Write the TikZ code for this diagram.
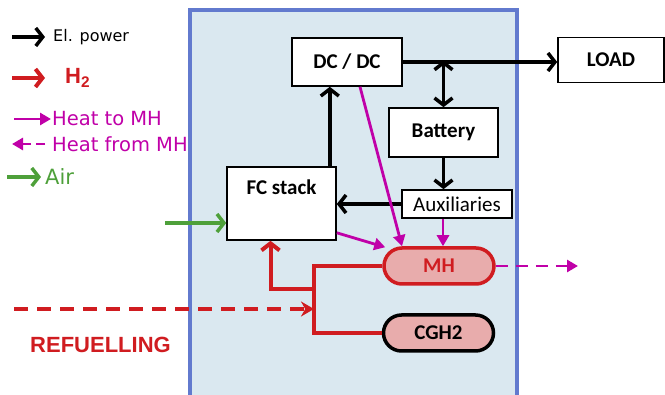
\documentclass[tikz,border=0pt]{standalone}
\usepackage{fontspec}
\setmainfont{Carlito}
\newfontfamily\legfont{DejaVu Sans}
\newfontfamily\arialfont{Liberation Sans}
\usetikzlibrary{arrows.meta}

\definecolor{hred}{RGB}{208,28,32}
\definecolor{heatmag}{RGB}{192,0,168}
\definecolor{airgreen}{RGB}{78,160,58}
\definecolor{frameblue}{RGB}{98,122,206}
\definecolor{framefill}{RGB}{218,232,240}
\definecolor{tankpink}{RGB}{232,172,172}

\tikzset{
  box/.style={draw, line width=1.6pt, fill=white, inner sep=0pt,
    font=\bfseries\fontsize{21}{24}\selectfont},
  tank/.style={draw, line width=3.5pt, fill=tankpink, rounded corners=18pt,
    minimum width=110pt, minimum height=36pt, inner sep=0pt,
    font=\bfseries\fontsize{21}{24}\selectfont},
  elec/.style={line width=3.5pt, -{Straight Barb[length=7pt,width=18pt]}},
  h2/.style={hred, line width=4pt},
  heat/.style={heatmag, line width=2.8pt, -{Triangle[length=11pt,width=12pt]}},
  air/.style={airgreen, line width=3.5pt, -{Straight Barb[length=7pt,width=18pt]}},
}

\begin{document}
\begin{tikzpicture}[x=1pt, y=-1pt]
  \useasboundingbox (0,0) rectangle (665,395);

  % system frame
  \draw[line width=3.5pt, draw=frameblue, fill=framefill] (190,10) rectangle (517,400);

  % components
  \node[box, minimum width=110pt, minimum height=48pt] (dcdc) at (347,62) {DC / DC};
  \node[box, minimum width=106pt, minimum height=45pt] (load) at (611,60) {LOAD};
  \node[box, minimum width=109pt, minimum height=49pt] (batt) at (443.5,132.5) {Battery};
  \node[box, minimum width=110pt, minimum height=28pt, font=\fontsize{21}{24}\selectfont] (aux) at (457,204) {Auxiliaries};
  \node[box, minimum width=109pt, minimum height=73pt,
    label={[anchor=north, yshift=-10pt, font=\bfseries\fontsize{21}{24}\selectfont]north:FC stack}] (fc) at (281.5,203.5) {};
  \node[tank, draw=hred, text=hred] (mh) at (439,266) {MH};
  \node[tank] (cgh) at (438.5,333) {CGH2};

  % electric power
  \draw[elec] (dcdc.east) -- (dcdc.east -| load.west);
  \draw[elec, {Straight Barb[length=7pt,width=18pt]}-{Straight Barb[length=7pt,width=18pt]}]
    ([yshift=1.5pt]batt.north |- dcdc.east) -- (batt.north);
  \draw[elec] (batt.south) -- (batt.south |- aux.north);
  \draw[elec] (aux.west) -- (aux.west -| fc.east);
  \draw[elec] ([xshift=-7pt]fc.north east) -- ([xshift=-7pt]fc.north east |- dcdc.south);

  % heat
  \draw[heat] ([xshift=13pt]dcdc.south) -- ([xshift=-37pt]mh.north);
  \draw[heat] ([yshift=8pt]fc.south east) -- ([xshift=3pt,yshift=-1pt]mh.north west);
  \draw[heat] ([xshift=-14pt]aux.south) -- ([xshift=-14pt]aux.south |- mh.north);
  \coordinate (heatout) at (578,266);
  \draw[heat, dash pattern=on 12pt off 8pt] (mh.east) -- (heatout);

  % air
  \coordinate (airin) at (165,223);
  \draw[air] (airin) -- (airin -| fc.west);

  % hydrogen
  \coordinate (jt) at (314,266);
  \coordinate (jm) at (314,289);
  \coordinate (refuel) at (14,309);
  \draw[h2] (mh.west) -- (jt) |- (cgh.west);
  \draw[h2, -{Straight Barb[length=7pt,width=18pt]}] (jm) -| ([xshift=-11pt]fc.south);
  \draw[h2, dash pattern=on 14pt off 9pt, -{Stealth[length=13pt,width=15pt]}] (refuel) -- (refuel -| jt);
  \node[anchor=west, text=hred, font=\arialfont\bfseries\fontsize{22}{24}\selectfont, inner sep=0pt] (refuelling) at (30,345) {REFUELLING};

  % legend
  \node[anchor=west, inner sep=0pt, font=\legfont\fontsize{16}{18}\selectfont] (lgel) at (53,37) {El. power};
  \draw[elec] ([xshift=-41pt]lgel.west) -- ([xshift=-8pt]lgel.west);
  \node[anchor=west, inner sep=0pt, text=hred, font=\arialfont\bfseries\fontsize{22}{24}\selectfont] (lgh2) at (65,78) {H\textsubscript{2}};
  \draw[h2, -{Straight Barb[length=7pt,width=18pt]}] ([xshift=-53pt]lgh2.west) -- ([xshift=-20pt]lgh2.west);
  \node[anchor=west, inner sep=0pt, text=heatmag, font=\legfont\fontsize{19.5}{22}\selectfont] (lgheatto) at (52,119) {Heat to MH};
  \draw[heat] ([xshift=-38pt]lgheatto.west) -- ([xshift=-1pt]lgheatto.west);
  \node[anchor=west, inner sep=0pt, text=heatmag, font=\legfont\fontsize{19.5}{22}\selectfont] (lgheatfrom) at (52,144) {Heat from MH};
  \draw[heat, dash pattern=on 9pt off 5pt] ([xshift=-7pt]lgheatfrom.west) -- ([xshift=-40pt]lgheatfrom.west);
  \node[anchor=west, inner sep=0pt, text=airgreen, font=\legfont\fontsize{21}{24}\selectfont] (lgair) at (45,177) {Air};
  \draw[air] ([xshift=-38pt]lgair.west) -- ([xshift=-4pt]lgair.west);
\end{tikzpicture}
\end{document}
